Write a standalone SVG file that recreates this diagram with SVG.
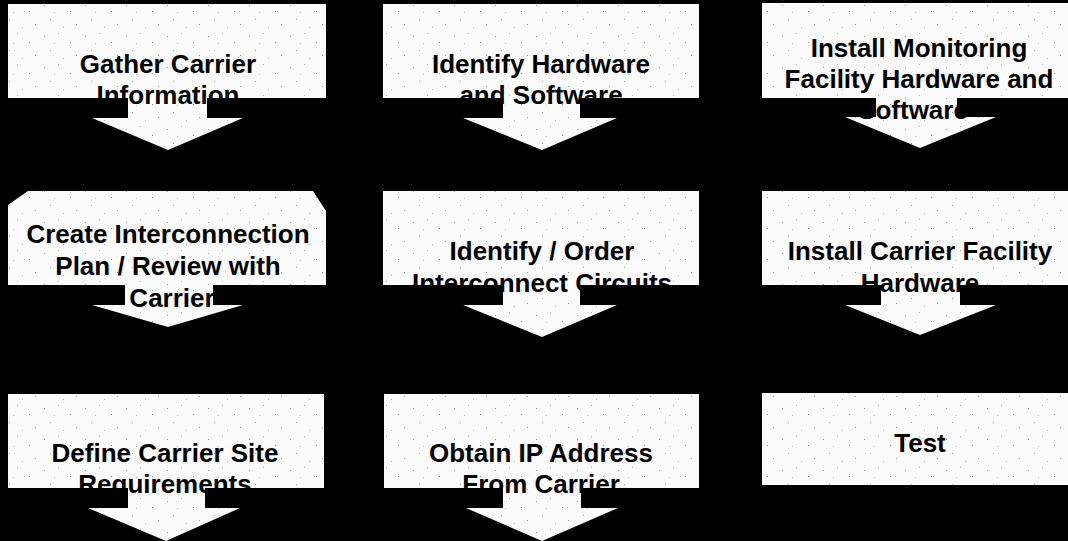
<svg xmlns="http://www.w3.org/2000/svg" width="1068" height="541" viewBox="0 0 1068 541">
<defs>
<pattern id="speck" width="41" height="31" patternUnits="userSpaceOnUse">
<rect width="41" height="31" fill="#fbfbfb"/>
<rect x="3" y="5" width="1" height="1" fill="#9a9a9a"/>
<rect x="17" y="2" width="1" height="1" fill="#b0b0b0"/>
<rect x="29" y="11" width="1" height="1" fill="#8a8a8a"/>
<rect x="9" y="19" width="1" height="1" fill="#a5a5a5"/>
<rect x="35" y="24" width="1" height="1" fill="#9a9a9a"/>
<rect x="22" y="27" width="1" height="1" fill="#b5b5b5"/>
<rect x="13" y="12" width="1" height="1" fill="#c0c0c0"/>
</pattern>
</defs>
<style>
.box{fill:url(#speck);}
.arr{fill:url(#speck);}
.t{font-family:"Liberation Sans",Arial,sans-serif;font-weight:bold;font-size:26px;fill:#000;text-anchor:middle;}
</style>
<rect width="1068" height="541" fill="#000"/>
<g id="connectors">
<polygon class="arr" points="128,96 207,96 207,118 243,118 168,150 92,118 128,118"/>
<polygon class="arr" points="503,96 580,96 580,118 617,118 542,150 463,118 503,118"/>
<polygon class="arr" points="876,96 957,96 957,117 996,117 920,148 845,117 876,117"/>
<polygon class="arr" points="125,283 213,283 213,305 243,305 168,327 92,305 125,305"/>
<polygon class="arr" points="503,283 580,283 580,305 617,305 542,337 463,305 503,305"/>
<polygon class="arr" points="881,283 960,283 960,305 996,305 920,335 845,305 881,305"/>
<polygon class="arr" points="128,486 205,486 205,508 240,508 166,541 88,508 128,508"/>
<polygon class="arr" points="503,486 581,486 581,508 618,508 542,541 466,508 503,508"/>
</g>
<g id="n1"><rect class="box" x="8" y="4" width="318" height="94"/></g>
<g id="n2"><rect class="box" x="383" y="4" width="316" height="94"/></g>
<g id="n3"><rect class="box" x="762" y="3" width="306" height="95"/></g>
<g id="n4"><path class="box" d="M8,205 L28,191 L313,191 L326,211 L326,285 L8,285 Z"/></g>
<g id="n5"><rect class="box" x="383" y="191" width="316" height="94"/></g>
<g id="n6"><rect class="box" x="762" y="191" width="306" height="94"/></g>
<g id="n7"><rect class="box" x="8" y="394" width="316" height="94"/></g>
<g id="n8"><rect class="box" x="384" y="394" width="315" height="94"/></g>
<g id="n9"><rect class="box" x="762" y="393" width="306" height="92"/></g>
<g id="labels">
<text class="t" x="168" y="73">Gather Carrier</text>
<text class="t" x="168" y="104">Information</text>
<text class="t" x="541" y="73">Identify Hardware</text>
<text class="t" x="541" y="104">and Software</text>
<text class="t" x="919" y="57">Install Monitoring</text>
<text class="t" x="919" y="88">Facility Hardware and</text>
<text class="t" x="913" y="119">Software</text>
<text class="t" x="168" y="243">Create Interconnection</text>
<text class="t" x="168" y="275">Plan / Review with</text>
<text class="t" x="172" y="307">Carrier</text>
<text class="t" x="542" y="260">Identify / Order</text>
<text class="t" x="542" y="292">Interconnect Circuits</text>
<text class="t" x="920" y="260">Install Carrier Facility</text>
<text class="t" x="920" y="292">Hardware</text>
<text class="t" x="165" y="462">Define Carrier Site</text>
<text class="t" x="165" y="493">Requirements</text>
<text class="t" x="541" y="462">Obtain IP Address</text>
<text class="t" x="541" y="493">From Carrier</text>
<text class="t" x="920" y="452">Test</text>
</g>
</svg>
